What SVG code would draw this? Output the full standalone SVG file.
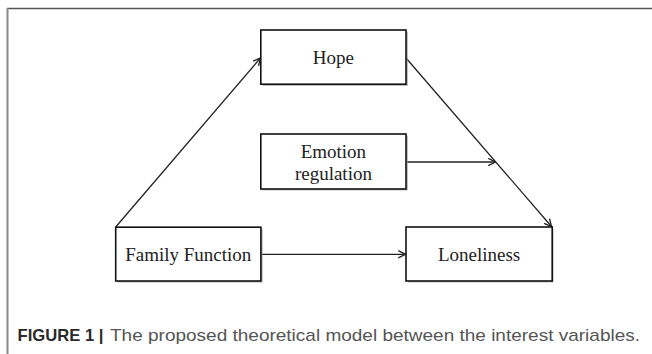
<svg xmlns="http://www.w3.org/2000/svg" width="652" height="354" viewBox="0 0 652 354">
  <style>
    .box { fill: #ffffff; stroke: #111111; stroke-width: 1.6; }
    .shadow { fill: #9a9a9a; opacity: 0.6; }
    .lbl { font-family: "Liberation Serif", "Times New Roman", serif; font-size: 19px; fill: #222222; text-anchor: middle; }
    .conn { stroke: #222222; stroke-width: 1.3; fill: none; marker-end: url(#arr); }
    .cap { font-family: "Liberation Sans", Arial, sans-serif; font-size: 17px; }
  </style>
  <defs>
    <marker id="arr" viewBox="0 0 10 10" refX="9" refY="5" markerWidth="9" markerHeight="9" markerUnits="userSpaceOnUse" orient="auto">
      <path d="M1,1 L9,5 L1,9" fill="none" stroke="#222222" stroke-width="1.5"/>
    </marker>
  </defs>
  <rect width="652" height="354" fill="#ffffff"/>
  <g id="frame">
    <line x1="7" y1="8.5" x2="652" y2="8.5" stroke="#555555" stroke-width="1.5"/>
    <line x1="7.5" y1="8" x2="7.5" y2="354" stroke="#8a8a8a" stroke-width="2"/>
  </g>
  <g id="connectors">
    <line class="conn" x1="115.7" y1="227" x2="260.5" y2="58"/>
    <line class="conn" x1="406" y1="58" x2="551.5" y2="226.5"/>
    <line class="conn" x1="407" y1="162" x2="495.5" y2="162"/>
    <line class="conn" x1="261.5" y1="254.3" x2="405.5" y2="254.3"/>
  </g>
  <g id="hope">
    <rect class="shadow" x="262.5" y="31.5" width="145.5" height="54.5"/>
    <rect class="box" x="260.8" y="30" width="145.2" height="54.2"/>
    <text class="lbl" x="333.4" y="64">Hope</text>
  </g>
  <g id="emotion-regulation">
    <rect class="shadow" x="262.5" y="135.5" width="145.5" height="55"/>
    <rect class="box" x="260.8" y="134" width="145.2" height="55"/>
    <text class="lbl" x="333.4" y="157.7">Emotion</text>
    <text class="lbl" x="333.4" y="180">regulation</text>
  </g>
  <g id="family-function">
    <rect class="shadow" x="117.3" y="228.7" width="145.5" height="54"/>
    <rect class="box" x="115.7" y="227.2" width="145.2" height="53.8"/>
    <text class="lbl" x="188.3" y="261">Family Function</text>
  </g>
  <g id="loneliness">
    <rect class="shadow" x="407.6" y="228.5" width="146" height="54"/>
    <rect class="box" x="406" y="227" width="146.2" height="54"/>
    <text class="lbl" x="479.1" y="261">Loneliness</text>
  </g>
  <g id="caption">
    <text class="cap" x="17.5" y="341" font-weight="bold" fill="#2a2a2a" textLength="86" lengthAdjust="spacingAndGlyphs">FIGURE 1 |</text>
    <text class="cap" x="110" y="341" fill="#555555" textLength="530" lengthAdjust="spacingAndGlyphs">The proposed theoretical model between the interest variables.</text>
  </g>
</svg>
